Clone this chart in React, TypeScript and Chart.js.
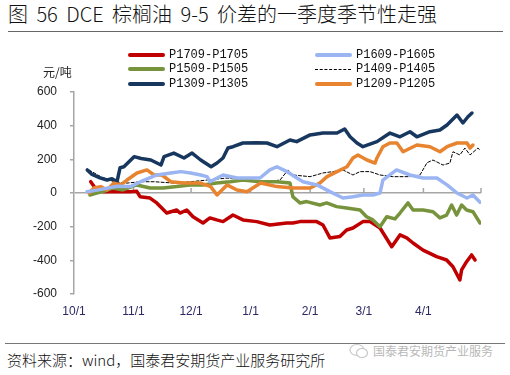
import React, { useEffect, useRef } from 'react';
import { Chart, registerables } from 'chart.js';

Chart.register(...registerables);

const TITLE = '图 56 DCE 棕榈油 9-5 价差的一季度季节性走强';
const SOURCE = '资料来源：wind，国泰君安期货产业服务研究所';
const WATERMARK = '国泰君安期货产业服务';
const Y_UNIT = '元/吨';

// x = days since 10/1, labels at month starts
const MONTH_TICKS = [0, 31, 61, 92, 123, 151, 182, 212];
const MONTH_LABELS = ['10/1', '11/1', '12/1', '1/1', '2/1', '3/1', '4/1', ''];
const Y_MIN = -600;
const Y_MAX = 600;
const Y_STEP = 200;

const P1709_P1705: [number, number][] = [
  [8.7, 67], [11.8, 18], [15.1, 8], [22.2, 8], [29.2, 8], [32.7, 10], [34.4, -22], [39.6, -30],
  [43.1, -59], [48.3, -119], [53.5, -101], [55.2, -119], [58.7, -101], [62, -141], [67.2, -178],
  [70.8, -148], [74.3, -160], [77.6, -170], [82.8, -131], [88, -160], [95.2, -170], [102, -190],
  [110.8, -178], [114, -178], [117.7, -170], [126.4, -170], [129.7, -190], [133.3, -267],
  [138.5, -259], [142, -220], [145.3, -208], [150.5, -170], [154.2, -170], [159.4, -208],
  [165.5, -319], [169.8, -249], [173.3, -267], [176.6, -297], [181.8, -339], [188.9, -378],
  [194.1, -398], [197.4, -438], [201, -517], [201.9, -457], [204.5, -408], [207.1, -368], [208.9, -398],
];

const P1609_P1605: [number, number][] = [
  [6.8, 8], [13.5, 20], [22.4, 40], [29.5, 38], [34.7, 67], [43.2, 107], [50.4, 119], [55.6, 127],
  [60.8, 119], [66, 107], [69.3, 97], [70.8, 67], [77.6, 107], [84.9, 89], [91.7, 89], [96.9, 89],
  [102, 137], [105.7, 156], [110.9, 127], [116.1, 89], [119.3, 67], [126.6, 48], [133.3, 8],
  [140.1, -30], [145.3, -22], [150.5, -12], [155.7, -12], [159.4, 0], [160.9, 77], [168, 137],
  [175, 107], [181.8, 89], [189, 89], [194.3, 48], [199.5, 0], [204.7, -30], [207.8, -12], [211.5, -55],
];

const P1509_P1505: [number, number][] = [
  [8.3, -12], [11.8, 0], [15.1, 8], [20.3, 30], [25.5, 18], [32.7, 48], [39.6, 30], [46.4, 30],
  [53.5, 38], [60.4, 48], [67.2, 48], [74.3, 59], [81.3, 67], [88, 77], [96.9, 67], [105.7, 67],
  [112.5, 59], [114, -22], [117.7, -59], [121.2, -51], [128.1, -71], [131.6, -59], [136.8, -81],
  [142, -89], [149, -101], [152.4, -141], [155.7, -160], [159.4, -200], [162.9, -141], [167.2, -154],
  [169.8, -119], [174, -59], [176.6, -101], [181.8, -101], [187, -111], [190.6, -148], [194.1, -131],
  [196.7, -71], [199.3, -131], [201.9, -71], [204.5, -101], [207.8, -111], [211.5, -178],
];

const P1409_P1405: [number, number][] = [
  [7.8, 137], [13.9, 97], [20.8, 67], [27.6, 59], [34.7, 67], [41.7, 67], [52, 59], [60.8, 67],
  [69.3, 77], [79.7, 89], [90.1, 77], [100.5, 67], [107.3, 77], [111.5, 137], [114, 107], [123, 97],
  [129.7, 119], [134.9, 127], [140.1, 137], [145.3, 107], [149, 127], [154.2, 127], [159.4, 107],
  [166.1, 97], [175, 97], [180.2, 107], [183.9, 180], [187, 196], [192.2, 166], [195.8, 178],
  [197.4, 245], [201, 226], [203.6, 267], [206.3, 226], [210.4, 267], [211.5, 255],
];

const P1309_P1305: [number, number][] = [
  [6.9, 137], [9.4, 110], [13.5, 90], [17.2, 77], [19.8, 85], [22.4, 67], [24, 150], [26, 156],
  [31.3, 216], [35, 205], [40, 196], [45.3, 166], [46.9, 216], [52, 237], [57.3, 208], [61.5, 237],
  [66, 196], [71.4, 156], [74.5, 178], [77.6, 208], [80.2, 267], [82.8, 275], [88, 297], [95.3, 299],
  [100.5, 297], [105.7, 275], [112.5, 315], [116, 305], [123, 345], [129.7, 356], [137, 356],
  [141, 380], [143.8, 334], [147.4, 297], [150.5, 275], [157.8, 305], [164.6, 356], [169.8, 334],
  [175, 364], [178.6, 334], [185.4, 364], [190.6, 374], [194.3, 404], [199.5, 463], [202.6, 416],
  [205.2, 453], [207.3, 475],
];

const P1209_P1205: [number, number][] = [
  [7.8, 0], [10.4, 30], [13.9, 38], [17.2, 18], [20.8, 59], [24.3, 48], [27.6, 77], [32.8, 119],
  [38, 137], [41.7, 107], [45.8, 107], [50.4, 67], [57.3, 59], [66, 59], [71.2, 38], [74.5, -12],
  [79.7, 48], [84.9, 18], [90.1, 8], [97.2, 59], [105.7, 38], [114, 30], [123, 30], [128.1, 59],
  [131.8, 97], [137, 127], [142.2, 156], [145.3, 208], [147.9, 226], [152.6, 196], [156.8, 178],
  [157.8, 208], [160.9, 275], [164.6, 297], [168.2, 297], [171.4, 245], [178.6, 285], [185.4, 275],
  [190.6, 245], [194.3, 275], [199.5, 297], [204.7, 297], [206.3, 267], [207.8, 285],
];

const SERIES = [
  { name: 'P1709-P1705', data: P1709_P1705, color: '#c00000', dash: false },
  { name: 'P1609-P1605', data: P1609_P1605, color: '#9bb5f2', dash: false },
  { name: 'P1509-P1505', data: P1509_P1505, color: '#77933c', dash: false },
  { name: 'P1409-P1405', data: P1409_P1405, color: '#000000', dash: true },
  { name: 'P1309-P1305', data: P1309_P1305, color: '#17375e', dash: false },
  { name: 'P1209-P1205', data: P1209_P1205, color: '#e8832f', dash: false },
];

// draw order (later on top)
const DRAW_ORDER = ['P1609-P1605', 'P1209-P1205', 'P1509-P1505', 'P1709-P1705', 'P1309-P1305', 'P1409-P1405'];

const AXIS_GRAY = '#a6a6a6';

const zeroTickMarks = {
  id: 'zeroTickMarks',
  beforeDatasetsDraw(chart: any) {
    const xs = chart.scales.x;
    const ys = chart.scales.y;
    const y0 = ys.getPixelForValue(0);
    const ctx = chart.ctx;
    ctx.save();
    ctx.strokeStyle = AXIS_GRAY;
    ctx.lineWidth = 1.5;
    MONTH_TICKS.slice(1).forEach((v) => {
      const px = xs.getPixelForValue(v);
      ctx.beginPath();
      ctx.moveTo(px, y0);
      ctx.lineTo(px, y0 - 5);
      ctx.stroke();
    });
    ctx.restore();
  },
};

function ChartCanvas() {
  const ref = useRef<HTMLCanvasElement | null>(null);
  useEffect(() => {
    if (!ref.current) return;
    const datasets = DRAW_ORDER.map((n) => {
      const s = SERIES.find((q) => q.name === n)!;
      return {
        label: s.name,
        data: s.data.map(([x, y]) => ({ x, y })),
        borderColor: s.color,
        borderWidth: s.dash ? 1 : 3.5,
        borderDash: s.dash ? [3, 2] : [],
        pointRadius: 0,
        tension: 0,
        fill: false,
        borderJoinStyle: 'round' as const,
        borderCapStyle: 'round' as const,
      };
    });
    const chart = new Chart(ref.current, {
      type: 'line',
      data: { datasets },
      options: {
        animation: false,
        responsive: false,
        layout: { padding: { top: 52, right: 29, left: 0, bottom: 0 } },
        plugins: { legend: { display: false }, tooltip: { enabled: false } },
        scales: {
          x: {
            type: 'linear',
            min: MONTH_TICKS[0],
            max: MONTH_TICKS[MONTH_TICKS.length - 1],
            afterBuildTicks: (s: any) => {
              s.ticks = MONTH_TICKS.map((v) => ({ value: v }));
            },
            afterFit: (s: any) => {
              s.height = 36;
            },
            grid: { display: false, drawTicks: false },
            border: { display: false },
            ticks: {
              autoSkip: false,
              maxRotation: 0,
              padding: 10,
              color: '#2d2864',
              font: { family: 'Liberation Sans', size: 12 },
              callback: (v: any) => {
                const i = MONTH_TICKS.indexOf(Number(v));
                return i >= 0 ? MONTH_LABELS[i] : '';
              },
            },
          },
          y: {
            min: Y_MIN,
            max: Y_MAX,
            afterFit: (s: any) => {
              s.width = 74;
            },
            ticks: {
              stepSize: Y_STEP,
              padding: 13,
              color: '#222',
              font: { family: 'Liberation Sans', size: 12 },
            },
            grid: {
              color: (ctx: any) => (ctx.tick && ctx.tick.value === 0 ? AXIS_GRAY : 'rgba(0,0,0,0)'),
              tickColor: AXIS_GRAY,
              lineWidth: 1.5,
              tickLength: 4,
              drawTicks: true,
            },
            border: { display: true, color: AXIS_GRAY, width: 1.5 },
          },
        },
      },
      plugins: [zeroTickMarks],
    });
    return () => chart.destroy();
  }, []);
  return (
    <canvas
      ref={ref}
      width={510}
      height={290}
      style={{ position: 'absolute', left: 0, top: 40, width: 510, height: 290 }}
    />
  );
}

const LEGEND_LAYOUT = [
  { name: 'P1709-P1705', col: 0, row: 0 },
  { name: 'P1609-P1605', col: 1, row: 0 },
  { name: 'P1509-P1505', col: 0, row: 1 },
  { name: 'P1409-P1405', col: 1, row: 1 },
  { name: 'P1309-P1305', col: 0, row: 2 },
  { name: 'P1209-P1205', col: 1, row: 2 },
];
const LEGEND_COL_X = [128, 315];
const LEGEND_ROW_Y = [54.5, 69, 84];

export default function App() {
  return (
    <div
      style={{
        position: 'absolute',
        left: 0,
        top: 0,
        width: 510,
        height: 375,
        background: '#fff',
        overflow: 'hidden',
      }}
    >
      <div
        style={{
          position: 'absolute',
          left: 8,
          top: 0,
          height: 28,
          lineHeight: '27px',
          fontSize: 20,
          fontFamily: '"Noto Sans CJK SC", sans-serif',
          color: '#111',
          whiteSpace: 'nowrap',
          fontWeight: 300,
          wordSpacing: 4,
        }}
      >
        {TITLE}
      </div>
      <div style={{ position: 'absolute', left: 8, top: 31, width: 495, height: 1, background: '#666' }} />
      <ChartCanvas />
      <div
        style={{
          position: 'absolute',
          left: 43,
          top: 64,
          lineHeight: '16px',
          fontSize: 12,
          fontFamily: '"Noto Sans CJK SC", sans-serif',
          color: '#222',
          whiteSpace: 'nowrap',
        }}
      >
        {Y_UNIT}
      </div>
      {LEGEND_LAYOUT.map((l) => {
        const s = SERIES.find((q) => q.name === l.name)!;
        const x = LEGEND_COL_X[l.col];
        const y = LEGEND_ROW_Y[l.row];
        return (
          <React.Fragment key={l.name}>
            {s.dash ? (
              <div
                style={{
                  position: 'absolute',
                  left: x,
                  top: y - 0.5,
                  width: 36,
                  height: 0,
                  borderTop: '1px dashed #000',
                }}
              />
            ) : (
              <div
                style={{
                  position: 'absolute',
                  left: x,
                  top: y - 2,
                  width: 37,
                  height: 4,
                  background: s.color,
                  borderRadius: 2,
                }}
              />
            )}
            <div
              style={{
                position: 'absolute',
                left: x + 41,
                top: y - 8,
                lineHeight: '16px',
                fontSize: 12,
                fontFamily: '"Liberation Mono", monospace',
                color: '#111',
                whiteSpace: 'nowrap',
              }}
            >
              {s.name}
            </div>
          </React.Fragment>
        );
      })}
      <div style={{ position: 'absolute', left: 5, top: 343, width: 500, height: 1, background: '#777' }} />
      <div
        style={{
          position: 'absolute',
          left: 7,
          top: 351,
          lineHeight: '18px',
          fontSize: 15,
          fontFamily: '"Noto Sans CJK SC", sans-serif',
          color: '#111',
          whiteSpace: 'nowrap',
          fontWeight: 300,
        }}
      >
        {SOURCE}
      </div>
      <svg
        width={20}
        height={16}
        style={{ position: 'absolute', left: 349, top: 343 }}
        viewBox="0 0 20 16"
      >
        <ellipse cx={8} cy={7} rx={7} ry={5.5} fill="none" stroke="#c8c8c8" strokeWidth={1.2} />
        <ellipse cx={13} cy={10} rx={5.5} ry={4.5} fill="#fff" stroke="#c8c8c8" strokeWidth={1.2} />
      </svg>
      <div
        style={{
          position: 'absolute',
          left: 373,
          top: 343,
          lineHeight: '16px',
          fontSize: 12,
          fontFamily: '"Noto Sans CJK SC", sans-serif',
          color: '#b8b8b8',
          whiteSpace: 'nowrap',
        }}
      >
        {WATERMARK}
      </div>
    </div>
  );
}
